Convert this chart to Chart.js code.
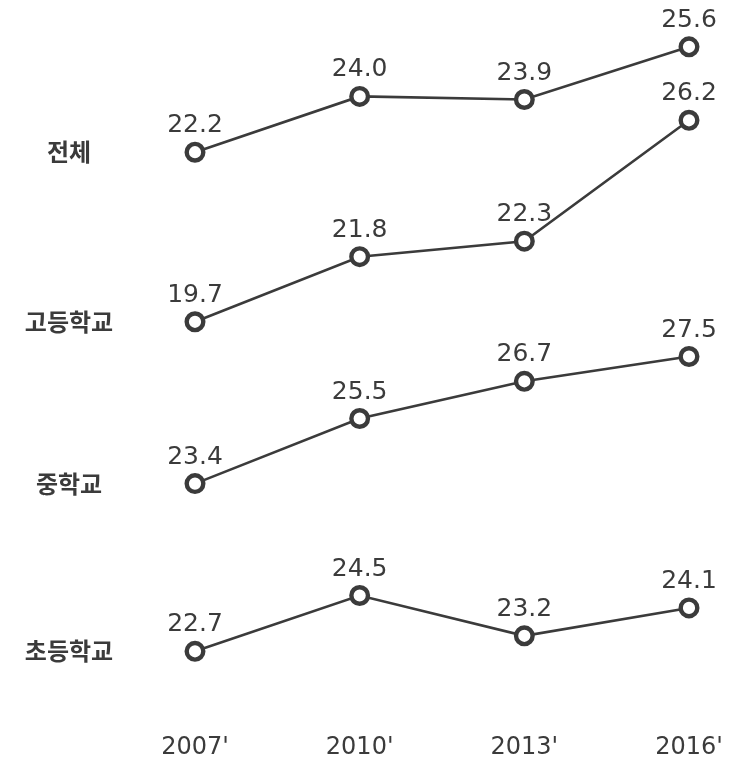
<!DOCTYPE html>
<html><head><meta charset="utf-8">
<script src="https://cdn.jsdelivr.net/npm/chart.js@4"></script>
<style>html,body{margin:0;padding:0;background:#fff}#wrap{width:741px;height:762px}</style>
</head><body><div id="wrap"><canvas id="c" width="741" height="762"></canvas></div>
<script>
const years = ["2007'", "2010'", "2013'", "2016'"];
const groups = ["전체", "고등학교", "중학교", "초등학교"];
const total = [22.2, 24.0, 23.9, 25.6];
const high = [19.7, 21.8, 22.3, 26.2];
const middle = [23.4, 25.5, 26.7, 27.5];
const elementary = [22.7, 24.5, 23.2, 24.1];
const series = [total, high, middle, elementary];

// layout: each panel has its own hidden y axis; value that would sit at the
// canvas top edge, and a common vertical scale (pixels per unit)
const panelTopValue = [27.11, 30.08, 39.0, 43.71];
const PX_PER_UNIT = 31;

const INK = '#3b3b3b';

const scales = {
  x: {
    type: 'category', labels: years, offset: false,
    grid: {display: false, drawTicks: false}, border: {display: false},
    ticks: {color: INK, font: {family: 'DejaVu Sans', size: 24}, padding: 12, maxRotation: 0, autoSkip: false}
  }
};
series.forEach((s, i) => {
  scales['y' + i] = {type: 'linear', display: false, min: panelTopValue[i] - 24, max: panelTopValue[i]};
});

const labelPlugin = {
  id: 'labels',
  afterDatasetsDraw(chart) {
    const ctx = chart.ctx;
    ctx.save();
    ctx.fillStyle = INK;
    chart.data.datasets.forEach((ds, i) => {
      const meta = chart.getDatasetMeta(i);
      ctx.font = '25px "DejaVu Sans"';
      ctx.textAlign = 'center';
      ctx.textBaseline = 'alphabetic';
      meta.data.forEach((pt, j) => {
        ctx.fillText(ds.data[j].toFixed(1), pt.x, pt.y - 20);
      });
      ctx.font = 'bold 24px "Noto Sans CJK KR"';
      ctx.textBaseline = 'middle';
      ctx.fillText(groups[i], 69, meta.data[0].y);
    });
    ctx.restore();
  }
};

const chart = new Chart(document.getElementById('c'), {
  type: 'line',
  data: {
    labels: years,
    datasets: series.map((s, i) => ({
      label: groups[i], data: s, yAxisID: 'y' + i,
      borderColor: INK, borderWidth: 2.6, tension: 0,
      pointRadius: 8.3, pointBorderWidth: 4.4,
      pointBackgroundColor: '#fff', pointBorderColor: INK,
      clip: false
    }))
  },
  options: {
    responsive: false, animation: false, devicePixelRatio: 1,
    layout: {padding: {left: 195, right: 52, top: 0, bottom: -12}},
    scales,
    plugins: {legend: {display: false}, tooltip: {enabled: false}}
  },
  plugins: [labelPlugin]
});

// fit every panel's axis range to the chart area so all panels share PX_PER_UNIT
const area = chart.chartArea;
series.forEach((s, i) => {
  const sc = chart.options.scales['y' + i];
  sc.max = panelTopValue[i] - area.top / PX_PER_UNIT;
  sc.min = sc.max - (area.bottom - area.top) / PX_PER_UNIT;
});
chart.update();
</script></body></html>
